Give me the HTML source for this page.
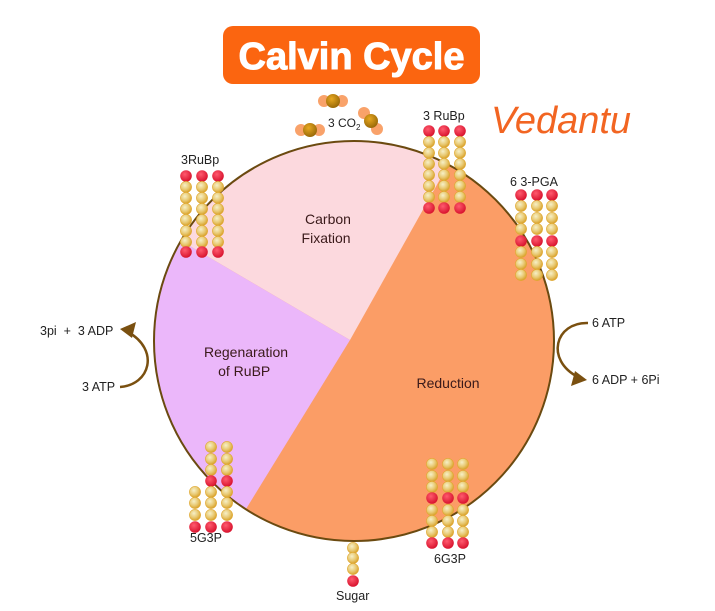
<!DOCTYPE html>
<html><head><meta charset="utf-8"><style>
html,body{margin:0;padding:0;background:#fff;}
svg{display:block;font-family:"Liberation Sans",sans-serif;}
</style></head><body>
<svg width="715" height="611" viewBox="0 0 715 611" xmlns="http://www.w3.org/2000/svg">
<defs>
<radialGradient id="gy" cx="40%" cy="35%" r="65%"><stop offset="0" stop-color="#f6f0c8"/><stop offset="0.6" stop-color="#e8c870"/><stop offset="1" stop-color="#d9a22c"/></radialGradient>
<radialGradient id="gr" cx="40%" cy="35%" r="65%"><stop offset="0" stop-color="#ff5a6e"/><stop offset="1" stop-color="#d8132e"/></radialGradient>
<radialGradient id="gc" cx="40%" cy="35%" r="65%"><stop offset="0" stop-color="#e8a820"/><stop offset="1" stop-color="#9a6a08"/></radialGradient>
<circle id="y" r="5.6" fill="url(#gy)" stroke="#e0a830" stroke-width="0.6"/>
<circle id="r" r="5.8" fill="url(#gr)"/>
<clipPath id="cc"><circle cx="354" cy="341" r="200"/></clipPath>
</defs>

<!-- title -->
<rect x="223" y="26" width="257" height="58" rx="10" fill="#fb6510"/>
<text x="351.5" y="69" text-anchor="middle" font-size="38" font-weight="bold" fill="#fff" stroke="#fff" stroke-width="1">Calvin Cycle</text>
<text x="561" y="133" text-anchor="middle" font-size="38" font-style="italic" fill="#f26522" textLength="140" lengthAdjust="spacingAndGlyphs">Vedantu</text>

<!-- pie -->
<g clip-path="url(#cc)">
<rect x="150" y="138" width="410" height="410" fill="#fb9d66"/>
<polygon points="350,340 462,140 300,100 120,100 120,205" fill="#fcd9de"/>
<polygon points="350,340 120,205 100,600 190,600" fill="#ebb7fa"/>
</g>
<circle cx="354" cy="341" r="200" fill="none" stroke="#6b4a10" stroke-width="2"/>

<text font-size="14" fill="#3a1a1a" text-anchor="middle">
<tspan x="328" y="224">Carbon</tspan><tspan x="328" y="243">Fixation</tspan>
<tspan x="246" y="357">Regenaration</tspan><tspan x="246" y="376">of RuBP</tspan>
<tspan x="448" y="388">Reduction</tspan>
</text>

<!-- CO2 -->
<g><circle cx="324" cy="101" r="6" fill="#f9a26a"/><circle cx="342" cy="101" r="6" fill="#f9a26a"/><circle cx="333" cy="101" r="7" fill="url(#gc)"/></g>
<g><circle cx="301" cy="130" r="6" fill="#f9a26a"/><circle cx="319" cy="130" r="6" fill="#f9a26a"/><circle cx="310" cy="130" r="7" fill="url(#gc)"/></g>
<g><circle cx="364" cy="113" r="6" fill="#f9a26a"/><circle cx="377" cy="129" r="6" fill="#f9a26a"/><circle cx="371" cy="121" r="7" fill="url(#gc)"/></g>
<text x="328" y="127" font-size="12" fill="#222">3 CO<tspan font-size="8" dy="3">2</tspan></text>

<!-- labels -->
<g font-size="12.5" fill="#222">
<text x="181" y="164">3RuBp</text>
<text x="423" y="120">3 RuBp</text>
<text x="510" y="186">6 3-PGA</text>
<text x="190" y="542">5G3P</text>
<text x="434" y="563">6G3P</text>
<text x="336" y="600">Sugar</text>
<text x="40" y="335" xml:space="preserve">3pi  +  3 ADP</text>
<text x="82" y="391">3 ATP</text>
<text x="592" y="327">6 ATP</text>
<text x="592" y="384">6 ADP + 6Pi</text>
</g>

<!-- arrows -->
<path d="M120,387 C150,385 160,350 128,332" fill="none" stroke="#7a5010" stroke-width="2.5"/>
<polygon points="120,329 136,322 132,338" fill="#7a5010"/>
<path d="M588,323 C555,322 545,360 578,377" fill="none" stroke="#7a5010" stroke-width="2.5"/>
<polygon points="587,380 571,386 575,371" fill="#7a5010"/>

<!-- left 3RuBp -->
<g>
<use href="#r" x="186" y="176"/><use href="#r" x="202" y="176"/><use href="#r" x="218" y="176"/>
<use href="#y" x="186" y="187"/><use href="#y" x="202" y="187"/><use href="#y" x="218" y="187"/>
<use href="#y" x="186" y="198"/><use href="#y" x="202" y="198"/><use href="#y" x="218" y="198"/>
<use href="#y" x="186" y="209"/><use href="#y" x="202" y="209"/><use href="#y" x="218" y="209"/>
<use href="#y" x="186" y="220"/><use href="#y" x="202" y="220"/><use href="#y" x="218" y="220"/>
<use href="#y" x="186" y="231"/><use href="#y" x="202" y="231"/><use href="#y" x="218" y="231"/>
<use href="#y" x="186" y="242"/><use href="#y" x="202" y="242"/><use href="#y" x="218" y="242"/>
<use href="#r" x="186" y="252"/><use href="#r" x="202" y="252"/><use href="#r" x="218" y="252"/>
</g>
<!-- right 3 RuBp -->
<g>
<use href="#r" x="429" y="131"/><use href="#r" x="444" y="131"/><use href="#r" x="460" y="131"/>
<use href="#y" x="429" y="142"/><use href="#y" x="444" y="142"/><use href="#y" x="460" y="142"/>
<use href="#y" x="429" y="153"/><use href="#y" x="444" y="153"/><use href="#y" x="460" y="153"/>
<use href="#y" x="429" y="164"/><use href="#y" x="444" y="164"/><use href="#y" x="460" y="164"/>
<use href="#y" x="429" y="175"/><use href="#y" x="444" y="175"/><use href="#y" x="460" y="175"/>
<use href="#y" x="429" y="186"/><use href="#y" x="444" y="186"/><use href="#y" x="460" y="186"/>
<use href="#y" x="429" y="197"/><use href="#y" x="444" y="197"/><use href="#y" x="460" y="197"/>
<use href="#r" x="429" y="208"/><use href="#r" x="444" y="208"/><use href="#r" x="460" y="208"/>
</g>
<!-- 6 3-PGA -->
<g>
<use href="#r" x="521" y="195"/><use href="#r" x="537" y="195"/><use href="#r" x="552" y="195"/>
<use href="#y" x="521" y="206"/><use href="#y" x="537" y="206"/><use href="#y" x="552" y="206"/>
<use href="#y" x="521" y="218"/><use href="#y" x="537" y="218"/><use href="#y" x="552" y="218"/>
<use href="#y" x="521" y="229"/><use href="#y" x="537" y="229"/><use href="#y" x="552" y="229"/>
<use href="#r" x="521" y="241"/><use href="#r" x="537" y="241"/><use href="#r" x="552" y="241"/>
<use href="#y" x="521" y="252"/><use href="#y" x="537" y="252"/><use href="#y" x="552" y="252"/>
<use href="#y" x="521" y="264"/><use href="#y" x="537" y="264"/><use href="#y" x="552" y="264"/>
<use href="#y" x="521" y="275"/><use href="#y" x="537" y="275"/><use href="#y" x="552" y="275"/>
</g>
<!-- 5G3P -->
<g>
<use href="#y" x="211" y="447"/><use href="#y" x="227" y="447"/>
<use href="#y" x="211" y="459"/><use href="#y" x="227" y="459"/>
<use href="#y" x="211" y="470"/><use href="#y" x="227" y="470"/>
<use href="#r" x="211" y="481"/><use href="#r" x="227" y="481"/>
<use href="#y" x="195" y="492"/><use href="#y" x="211" y="492"/><use href="#y" x="227" y="492"/>
<use href="#y" x="195" y="503"/><use href="#y" x="211" y="503"/><use href="#y" x="227" y="503"/>
<use href="#y" x="195" y="515"/><use href="#y" x="211" y="515"/><use href="#y" x="227" y="515"/>
<use href="#r" x="195" y="527"/><use href="#r" x="211" y="527"/><use href="#r" x="227" y="527"/>
</g>
<!-- 6G3P -->
<g>
<use href="#y" x="432" y="464"/><use href="#y" x="448" y="464"/><use href="#y" x="463" y="464"/>
<use href="#y" x="432" y="476"/><use href="#y" x="448" y="476"/><use href="#y" x="463" y="476"/>
<use href="#y" x="432" y="487"/><use href="#y" x="448" y="487"/><use href="#y" x="463" y="487"/>
<use href="#r" x="432" y="498"/><use href="#r" x="448" y="498"/><use href="#r" x="463" y="498"/>
<use href="#y" x="432" y="510"/><use href="#y" x="448" y="510"/><use href="#y" x="463" y="510"/>
<use href="#y" x="432" y="521"/><use href="#y" x="448" y="521"/><use href="#y" x="463" y="521"/>
<use href="#y" x="432" y="532"/><use href="#y" x="448" y="532"/><use href="#y" x="463" y="532"/>
<use href="#r" x="432" y="543"/><use href="#r" x="448" y="543"/><use href="#r" x="463" y="543"/>
</g>
<!-- Sugar -->
<g>
<use href="#y" x="353" y="548"/><use href="#y" x="353" y="558"/><use href="#y" x="353" y="569"/><use href="#r" x="353" y="581"/>
</g>
</svg>
</body></html>
